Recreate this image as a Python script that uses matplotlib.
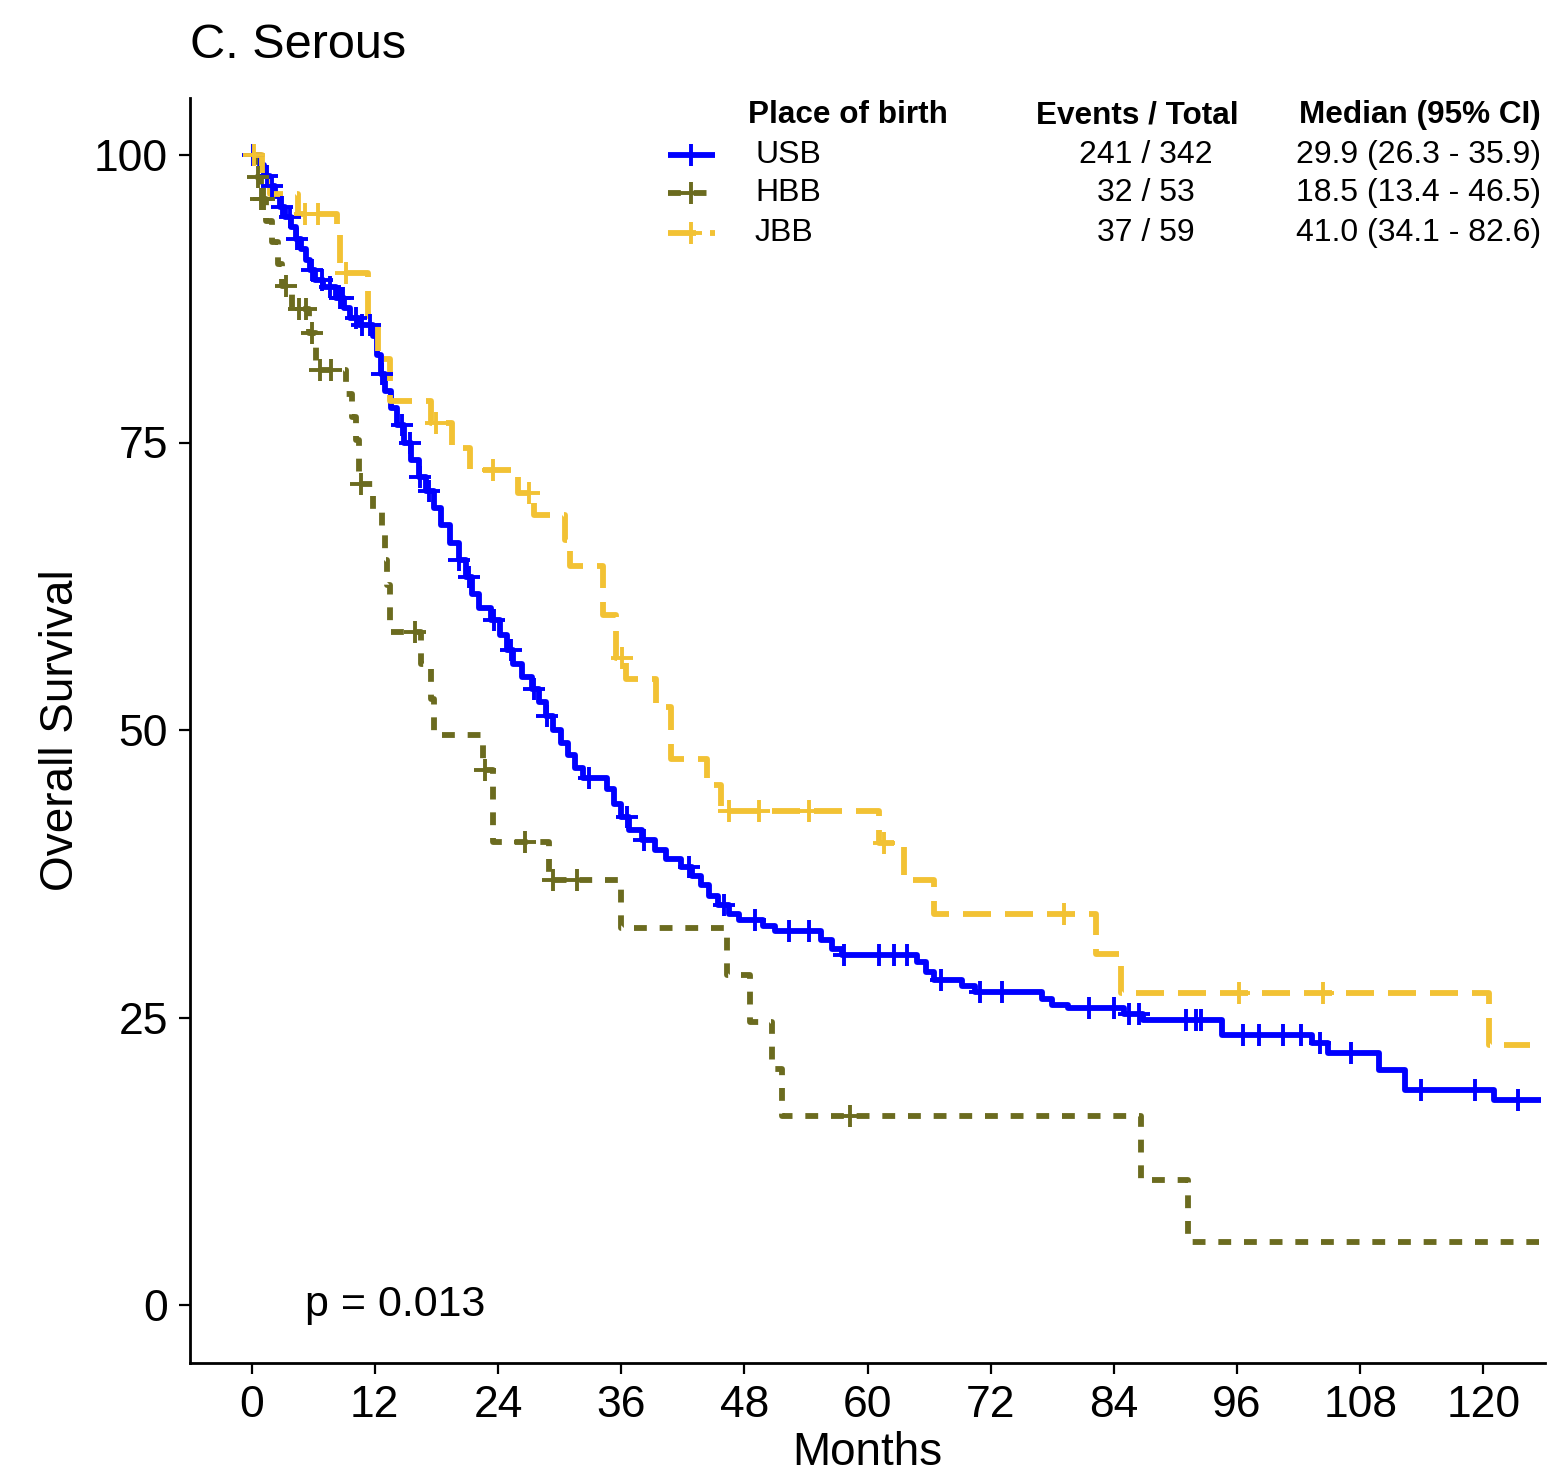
import numpy as np
import matplotlib
matplotlib.use("Agg")
import matplotlib.pyplot as plt
from matplotlib.lines import Line2D

plt.rcParams["font.family"] = ["Liberation Sans", "DejaVu Sans"]

# ---- Kaplan-Meier step data (months, % surviving) ----
usb_times = [0, 0.8, 1.2, 1.8, 2.3, 2.8, 3.3, 3.8, 4.3, 4.8, 5.3, 5.7, 6.2, 7.0, 8.2,
             9.0, 9.6, 10.5, 11.8, 12.2, 12.6, 13.0, 13.6, 14.2, 14.8, 15.5, 16.3,
             17.0, 17.8, 18.5, 19.3, 20.2, 20.9, 21.5, 22.2, 23.3, 24.2, 24.9, 25.5,
             26.3, 27.3, 28.0, 28.7, 29.4, 30.1, 30.8, 31.5, 32.3, 34.6, 35.3, 36.0,
             36.8, 38.0, 39.3, 40.4, 41.8, 42.9, 43.8, 44.6, 45.4, 46.5, 47.5, 49.8,
             51.0, 55.5, 56.5, 57.5, 64.8, 65.7, 66.5, 69.2, 70.5, 77.0, 78.0, 79.5,
             85.0, 86.8, 94.5, 103.3, 104.9, 109.8, 112.4, 121.0]
usb_surv = [100, 99.1, 98.2, 97.3, 96.4, 95.5, 94.6, 93.7, 92.7, 91.8, 90.9, 90.0, 89.1,
            88.5, 87.6, 86.7, 85.8, 85.2, 84.3, 82.6, 81.0, 79.5, 78.0, 76.5, 75.0,
            73.5, 72.0, 70.8, 69.3, 67.8, 66.3, 64.8, 63.3, 61.8, 60.6, 59.6, 58.3,
            57.0, 55.7, 54.6, 53.6, 52.4, 51.2, 50.0, 48.9, 47.8, 46.7, 45.8, 44.9,
            43.6, 42.4, 41.3, 40.4, 39.6, 38.8, 38.1, 37.3, 36.5, 35.6, 34.8, 34.0,
            33.5, 33.0, 32.5, 31.7, 31.0, 30.4, 29.8, 29.0, 28.3, 27.7, 27.2, 26.6,
            26.1, 25.8, 25.3, 24.8, 23.5, 22.8, 21.9, 20.4, 18.7, 17.8]
usb_end = 125.6
usb_censor = [0.1, 1.5, 2.0, 3.0, 3.7, 4.4, 5.9, 6.9, 7.6, 8.6, 8.9, 10.2, 10.8, 11.5,
              12.7, 14.7, 15.4, 16.4, 17.3, 20.2, 21.2, 23.6, 25.3, 27.5, 28.8, 32.9,
              36.6, 38.2, 42.6, 46.0, 49.0, 52.4, 54.3, 57.7, 61.1, 62.6, 63.8, 67.2,
              71.0, 73.1, 81.6, 84.0, 85.5, 86.4, 91.0, 92.0, 92.5, 96.6, 98.1, 100.5,
              102.2, 104.1, 107.1, 113.9, 119.2, 123.4]

hbb_times = [0, 0.3, 0.9, 1.4, 2.0, 2.6, 3.0, 3.9, 5.6, 6.3, 9.2, 9.8, 10.2, 10.5,
             11.8, 12.7, 13.0, 13.2, 13.5, 16.5, 17.5, 17.8, 22.5, 23.5, 29.0, 36.0,
             46.3, 48.6, 50.7, 51.7, 86.6, 91.2]
hbb_surv = [100, 98.1, 96.2, 94.3, 92.4, 90.5, 88.6, 86.6, 84.5, 81.3, 79.2, 77.2,
            75.2, 71.4, 69.2, 67.0, 64.8, 62.6, 58.5, 55.7, 52.7, 49.6, 46.5, 40.3,
            37.0, 32.8, 28.7, 24.6, 20.5, 16.4, 10.9, 5.5]
hbb_end = 125.4
hbb_censor = [0.6, 0.9, 1.2, 3.4, 4.6, 5.3, 5.9, 6.7, 7.7, 10.7, 15.9, 22.7, 26.6,
              29.4, 31.7, 58.3]

jbb_times = [0, 1.0, 1.8, 4.5, 8.3, 8.6, 11.3, 12.3, 13.5, 17.5, 19.5, 21.3, 26.0,
             27.5, 30.5, 31.0, 34.2, 35.5, 36.5, 39.4, 40.9, 44.4, 45.7, 61.1, 63.6,
             66.5, 82.3, 84.7, 120.5]
jbb_surv = [100, 98.3, 96.6, 94.9, 93.1, 89.7, 86.0, 82.3, 78.6, 76.7, 74.5, 72.6,
            70.6, 68.7, 66.5, 64.3, 60.0, 56.3, 54.4, 52.0, 47.5, 45.2, 43.0, 40.2,
            37.0, 34.0, 30.5, 27.1, 22.6]
jbb_end = 124.5
jbb_censor = [0.2, 5.2, 6.5, 9.2, 18.0, 23.5, 27.0, 36.1, 46.5, 49.4, 54.3, 61.6,
              79.1, 96.2, 104.4]

groups = ["USB", "HBB", "JBB"]
events_total = ["241 / 342", "32 / 53", "37 / 59"]
medians = ["29.9 (26.3 - 35.9)", "18.5 (13.4 - 46.5)", "41.0 (34.1 - 82.6)"]
p_label = "p = 0.013"

colors = ["#0000FF", "#6B6B1F", "#F2C234"]
lw = 4.2
styles = ["-", (0, (2.2, 2.2)), (0, (4.8, 2.4))]
ms, mew = 16, 2.8

series = [
    (usb_times, usb_surv, usb_end, usb_censor),
    (hbb_times, hbb_surv, hbb_end, hbb_censor),
    (jbb_times, jbb_surv, jbb_end, jbb_censor),
]

W, H = 1547, 1475
fig = plt.figure(figsize=(W / 100, H / 100), dpi=100)
ax = fig.add_axes([190 / W, (H - 1362.5) / H, (1545 - 190) / W, (1362.5 - 97.5) / H])

for (t, s, end, cens), col, ls in zip(series, colors, styles):
    t = np.asarray(t, float)
    s = np.asarray(s, float)
    tx = np.append(t, end)
    sx = np.append(s, s[-1])
    ax.step(tx, sx, where="post", color=col, lw=lw, linestyle=ls,
            solid_capstyle="butt", dash_capstyle="butt", zorder=2)
    c = np.asarray(cens, float)
    cy = s[np.searchsorted(t, c, side="right") - 1]
    ax.plot(c, cy, linestyle="none", marker="+", ms=ms, mew=mew, color=col, zorder=3)

ax.set_xlim(-6, 126)
ax.set_ylim(-5, 105)
ax.set_xticks(np.arange(0, 121, 12))
ax.set_yticks([0, 25, 50, 75, 100])
for side in ("top", "right"):
    ax.spines[side].set_visible(False)
for side in ("left", "bottom"):
    ax.spines[side].set_linewidth(2.0)
    ax.spines[side].set_color("black")
ax.tick_params(axis="both", length=8, width=1.6, color="black",
               labelsize=32, labelcolor="black", pad=8)
ax.set_xlabel("Months", fontsize=33, labelpad=4)
ax.set_ylabel("Overall Survival", fontsize=33, labelpad=8)

ax.text(5.2, 0, p_label, fontsize=31, ha="left", va="center")

fig.text(190 / W, 1 - 58 / H, "C. Serous", fontsize=35, ha="left", va="baseline")

# ---- legend table ----
def fx(px):
    return px / W

def fy(py):
    return 1 - py / H

hdr_y = 115
row_y = [155, 193, 233]
fig.text(fx(748), fy(hdr_y), "Place of birth", fontsize=22.7, fontweight="bold",
         ha="left", va="center")
fig.text(fx(1137), fy(hdr_y), "Events / Total", fontsize=22.7, fontweight="bold",
         ha="center", va="center")
fig.text(fx(1541), fy(hdr_y), "Median (95% CI)", fontsize=22.7, fontweight="bold",
         ha="right", va="center")
for i, g in enumerate(groups):
    y = fy(row_y[i])
    fig.text(fx(755), y, g, fontsize=23, ha="left", va="center")
    fig.text(fx(1146), y, events_total[i], fontsize=23, ha="center", va="center")
    fig.text(fx(1541), y, medians[i], fontsize=23, ha="right", va="center")
    key = Line2D([fx(668), fx(715)], [y, y], transform=fig.transFigure,
                 color=colors[i], lw=lw, linestyle=styles[i],
                 dash_capstyle="butt", solid_capstyle="butt")
    mk = Line2D([fx(691)], [y], transform=fig.transFigure, color=colors[i],
                marker="+", ms=ms, mew=mew, linestyle="none")
    fig.add_artist(key)
    fig.add_artist(mk)

fig.savefig("out.png", dpi=100, facecolor="white")
